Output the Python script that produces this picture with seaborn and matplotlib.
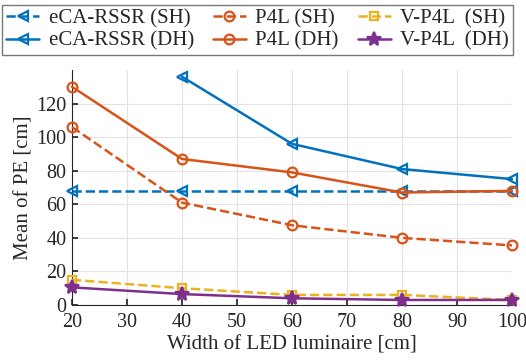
"""Mean PE vs LED luminaire width, saved to out.png."""
import matplotlib
matplotlib.use("Agg")

import matplotlib.pyplot as plt
import pandas as pd
import seaborn as sns

widths = [20, 40, 60, 80, 100]
eca_sh = [68, 68, 68, 68, 68]
eca_dh = [None, 136, 96, 81, 75]
p4l_sh = [106, 61, 47.5, 40, 35.5]
p4l_dh = [130, 87, 79, 67, 68]
vp4l_sh = [15, 10, 6, 6, 3]
vp4l_dh = [10.5, 6.5, 4, 3, 3]

blue, orange, yellow, purple = "#0072BD", "#D95319", "#EDB120", "#7E2F8E"

series = [
    ("eCA-RSSR (SH)", eca_sh, blue, "--", "<", "none"),
    ("eCA-RSSR (DH)", eca_dh, blue, "-", "<", "none"),
    ("P4L (SH)", p4l_sh, orange, "--", "o", "none"),
    ("P4L (DH)", p4l_dh, orange, "-", "o", "none"),
    ("V-P4L  (SH)", vp4l_sh, yellow, "--", "s", "none"),
    ("V-P4L  (DH)", vp4l_dh, purple, "-", "*", "full"),
]

sns.set_theme(style="whitegrid")
plt.rcParams["font.family"] = ["Liberation Serif", "DejaVu Serif"]

fig = plt.figure(figsize=(5.26, 3.64), dpi=100)
ax = fig.add_axes([72 / 526, 59 / 364, 440 / 526, 235 / 364])

for name, vals, color, ls, mk, fill in series:
    df = pd.DataFrame({"w": widths, "pe": vals}).dropna()
    sns.lineplot(data=df, x="w", y="pe", ax=ax, color=color, linestyle=ls,
                 linewidth=1.8, marker=mk,
                 markersize={"*": 10, "s": 6}.get(mk, 7),
                 fillstyle=fill, markeredgewidth=1.6, markeredgecolor=color,
                 label=name, clip_on=False, zorder=3)

ax.set_xlim(20, 100)
ax.set_ylim(0, 140)
ax.set_xticks(range(20, 101, 10))
ax.set_yticks(range(0, 121, 20))
ax.tick_params(direction="in", length=4, labelsize=14.5, colors="#262626",
               pad=4, bottom=True, left=True)
ax.tick_params(axis="x", pad=6)
for side in ("top", "right"):
    ax.spines[side].set_visible(False)
for side in ("left", "bottom"):
    ax.spines[side].set_color("#262626")
    ax.spines[side].set_linewidth(0.8)
ax.grid(True, color="#e3e3e3", linewidth=0.8)
ax.set_facecolor("white")
ax.set_xlabel("Width of LED luminaire [cm]", fontsize=15, color="#262626", labelpad=2)
ax.set_ylabel("Mean of PE [cm]", fontsize=15, color="#262626", labelpad=2)

handles, labels = ax.get_legend_handles_labels()
ax.get_legend().remove()
leg = fig.legend(handles, labels, ncol=3, loc="center",
                 bbox_to_anchor=(257.5 / 526, 1 - 30 / 364),
                 fontsize=15, frameon=True, fancybox=False, edgecolor="#555555",
                 handlelength=1.6, handletextpad=0.45, columnspacing=0.9,
                 labelspacing=0.12, borderpad=0.2, borderaxespad=0)
leg.get_frame().set_linewidth(1.0)

fig.savefig("out.png", dpi=100)
